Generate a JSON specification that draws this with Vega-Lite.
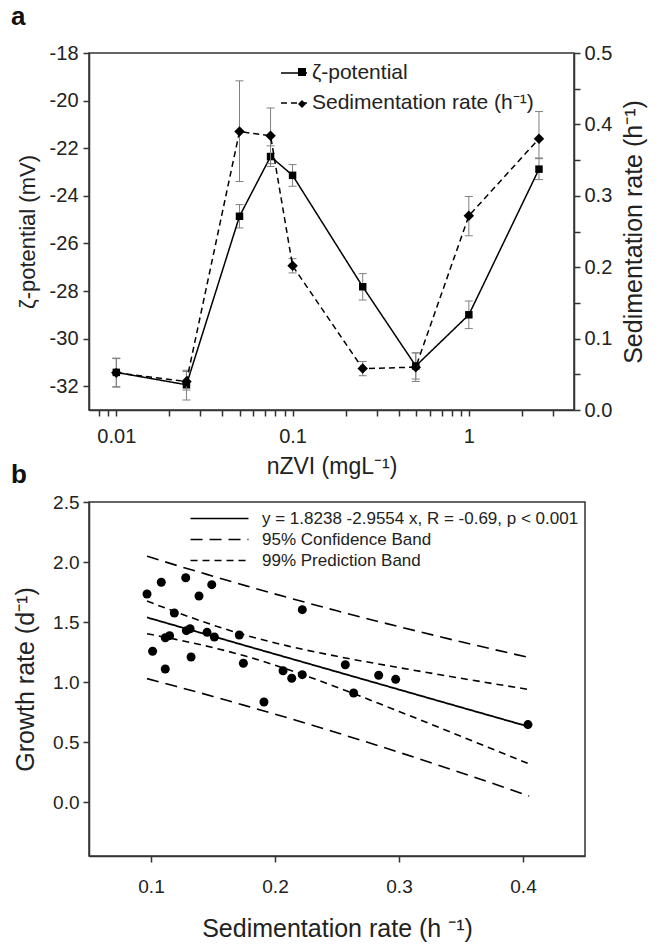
{
  "$schema": "https://vega.github.io/schema/vega-lite/v6.json",
  "background": "white",
  "padding": {"left": 10, "top": 3, "right": 5, "bottom": 5},
  "datasets": {
    "zeta": [
      {"x": 0.01, "z": -31.42, "zlo": -32.02, "zhi": -30.82, "s": 0.052, "slo": 0.032, "shi": 0.072},
      {"x": 0.025, "z": -31.94, "zlo": -32.58, "zhi": -31.33, "s": 0.040, "slo": 0.028, "shi": 0.054},
      {"x": 0.05, "z": -24.86, "zlo": -25.35, "zhi": -24.37, "s": 0.390, "slo": 0.320, "shi": 0.461},
      {"x": 0.075, "z": -22.35, "zlo": -22.77, "zhi": -21.90, "s": 0.384, "slo": 0.345, "shi": 0.423},
      {"x": 0.1, "z": -23.14, "zlo": -23.60, "zhi": -22.69, "s": 0.202, "slo": 0.192, "shi": 0.212},
      {"x": 0.25, "z": -27.82, "zlo": -28.38, "zhi": -27.27, "s": 0.058, "slo": 0.048, "shi": 0.068},
      {"x": 0.5, "z": -31.15, "zlo": -31.70, "zhi": -30.60, "s": 0.060, "slo": 0.040, "shi": 0.080},
      {"x": 1, "z": -29.00, "zlo": -29.58, "zhi": -28.42, "s": 0.272, "slo": 0.244, "shi": 0.299},
      {"x": 2.5, "z": -22.88, "zlo": -23.32, "zhi": -22.41, "s": 0.380, "slo": 0.352, "shi": 0.418}
    ],
    "pts": [
      {"x": 0.0968, "y": 1.733}, {"x": 0.1083, "y": 1.831}, {"x": 0.128, "y": 1.869},
      {"x": 0.149, "y": 1.811}, {"x": 0.1387, "y": 1.717}, {"x": 0.1188, "y": 1.575},
      {"x": 0.1013, "y": 1.256}, {"x": 0.1115, "y": 1.369}, {"x": 0.115, "y": 1.386},
      {"x": 0.1285, "y": 1.428}, {"x": 0.1315, "y": 1.444}, {"x": 0.1452, "y": 1.414},
      {"x": 0.1511, "y": 1.375}, {"x": 0.1323, "y": 1.208}, {"x": 0.1115, "y": 1.108},
      {"x": 0.1712, "y": 1.392}, {"x": 0.1745, "y": 1.156}, {"x": 0.222, "y": 1.603},
      {"x": 0.2065, "y": 1.094}, {"x": 0.2135, "y": 1.031}, {"x": 0.222, "y": 1.061},
      {"x": 0.1911, "y": 0.833}, {"x": 0.2567, "y": 1.144}, {"x": 0.2634, "y": 0.908},
      {"x": 0.2836, "y": 1.056}, {"x": 0.2973, "y": 1.022}, {"x": 0.404, "y": 0.645}
    ],
    "bands": [
      {"x": 0.0968, "fit": 1.538, "cl": 1.402, "cu": 1.674, "pl": 1.028, "pu": 2.048},
      {"x": 0.12, "fit": 1.469, "cl": 1.355, "cu": 1.584, "pl": 0.964, "pu": 1.974},
      {"x": 0.15, "fit": 1.381, "cl": 1.287, "cu": 1.474, "pl": 0.880, "pu": 1.882},
      {"x": 0.1768, "fit": 1.301, "cl": 1.214, "cu": 1.389, "pl": 0.801, "pu": 1.801},
      {"x": 0.21, "fit": 1.203, "cl": 1.106, "cu": 1.301, "pl": 0.702, "pu": 1.705},
      {"x": 0.25, "fit": 1.085, "cl": 0.956, "cu": 1.214, "pl": 0.577, "pu": 1.593},
      {"x": 0.3, "fit": 0.937, "cl": 0.755, "cu": 1.120, "pl": 0.414, "pu": 1.461},
      {"x": 0.35, "fit": 0.789, "cl": 0.547, "cu": 1.031, "pl": 0.244, "pu": 1.335},
      {"x": 0.405, "fit": 0.627, "cl": 0.317, "cu": 0.937, "pl": 0.050, "pu": 1.204}
    ]
  },
  "config": {
    "font": "Liberation Sans",
    "view": {"stroke": "#333333", "strokeWidth": 1.5},
    "axis": {"grid": false, "domainColor": "#333333", "domainWidth": 1.5, "tickColor": "#333333", "tickWidth": 1.5, "tickSize": 6, "labelColor": "#222222", "titleColor": "#222222", "titleFontWeight": "normal", "labelFont": "Liberation Sans", "titleFont": "Liberation Sans", "labelOverlap": false, "labelFlush": false},
    "legend": {"labelFont": "Liberation Sans", "labelColor": "#222222", "labelLimit": 500},
    "title": {"font": "Liberation Sans", "fontWeight": "bold", "color": "#111111"}
  },
  "resolve": {"scale": {"strokeDash": "independent", "shape": "independent"}, "legend": {"strokeDash": "independent", "shape": "independent"}},
  "bounds": "flush",
  "spacing": 92,
  "vconcat": [
    {
      "width": 485,
      "height": 357,
      "data": {"name": "zeta"},
      "title": {"text": "a", "anchor": "start", "frame": "group", "dx": -78, "offset": -8, "fontSize": 26, "baseline": "alphabetic"},
      "encoding": {
        "x": {"field": "x", "type": "quantitative", "title": "nZVI (mgL⁻¹)",
          "scale": {"type": "log", "domain": [0.007, 3.95], "nice": false},
          "axis": {"values": [0.008, 0.009, 0.01, 0.02, 0.03, 0.04, 0.05, 0.06, 0.07, 0.08, 0.09, 0.1, 0.2, 0.3, 0.4, 0.5, 0.6, 0.7, 0.8, 0.9, 1, 2, 3],
            "labelExpr": "datum.value === 0.01 ? '0.01' : datum.value === 0.1 ? '0.1' : datum.value === 1 ? '1' : ''",
            "labelFontSize": 20, "titleFontSize": 23, "labelPadding": 10, "titlePadding": 9}}
      },
      "layer": [
        {
          "layer": [
            {"mark": {"type": "rule", "color": "#808080", "strokeWidth": 1},
             "encoding": {"y": {"field": "zlo", "type": "quantitative", "title": "ζ-potential (mV)", "scale": {"domain": [-33, -18], "nice": false, "zero": false}, "axis": {"orient": "left", "values": [-32, -30, -28, -26, -24, -22, -20, -18], "labelExpr": "'-' + abs(datum.value)", "labelFontSize": 20, "titleFontSize": 22, "labelPadding": 5, "titlePadding": 10}}, "y2": {"field": "zhi"}}},
            {"mark": {"type": "point", "shape": "M-1,0H1", "size": 64, "filled": false, "color": "#808080", "strokeWidth": 1, "opacity": 1},
             "encoding": {"y": {"field": "zlo", "type": "quantitative", "title": "ζ-potential (mV)", "scale": {"domain": [-33, -18], "nice": false, "zero": false}, "axis": {"orient": "left", "values": [-32, -30, -28, -26, -24, -22, -20, -18], "labelExpr": "'-' + abs(datum.value)", "labelFontSize": 20, "titleFontSize": 22, "labelPadding": 5, "titlePadding": 10}}}},
            {"mark": {"type": "point", "shape": "M-1,0H1", "size": 64, "filled": false, "color": "#808080", "strokeWidth": 1, "opacity": 1},
             "encoding": {"y": {"field": "zhi", "type": "quantitative", "title": "ζ-potential (mV)", "scale": {"domain": [-33, -18], "nice": false, "zero": false}, "axis": {"orient": "left", "values": [-32, -30, -28, -26, -24, -22, -20, -18], "labelExpr": "'-' + abs(datum.value)", "labelFontSize": 20, "titleFontSize": 22, "labelPadding": 5, "titlePadding": 10}}}},
            {"mark": {"type": "line", "color": "black", "strokeWidth": 1.5},
             "encoding": {"y": {"field": "z", "type": "quantitative", "title": "ζ-potential (mV)", "scale": {"domain": [-33, -18], "nice": false, "zero": false}, "axis": {"orient": "left", "values": [-32, -30, -28, -26, -24, -22, -20, -18], "labelExpr": "'-' + abs(datum.value)", "labelFontSize": 20, "titleFontSize": 22, "labelPadding": 5, "titlePadding": 10}},
               "strokeDash": {"datum": "ζ-potential", "type": "nominal",
                 "scale": {"domain": ["ζ-potential", "Sedimentation rate (h⁻¹)"], "range": [[1, 0], [6, 4]]},
                 "legend": {"title": null, "orient": "none", "legendX": 191, "legendY": 6, "labelFontSize": 21, "labelOffset": 4, "rowPadding": 6, "symbolSize": 676, "symbolStrokeWidth": 1.5, "symbolStrokeColor": "black"}}}},
            {"mark": {"type": "point", "filled": true, "color": "black", "size": 56, "opacity": 1},
             "encoding": {"y": {"field": "z", "type": "quantitative", "title": "ζ-potential (mV)", "scale": {"domain": [-33, -18], "nice": false, "zero": false}, "axis": {"orient": "left", "values": [-32, -30, -28, -26, -24, -22, -20, -18], "labelExpr": "'-' + abs(datum.value)", "labelFontSize": 20, "titleFontSize": 22, "labelPadding": 5, "titlePadding": 10}},
               "shape": {"datum": "zeta", "type": "nominal",
                 "scale": {"domain": ["zeta", "sed"], "range": ["square", "diamond"]},
                 "legend": {"title": null, "orient": "none", "legendX": 200, "legendY": 6, "labelFontSize": 26, "labelExpr": "''", "rowPadding": 6, "symbolSize": 64, "symbolFillColor": "black", "symbolStrokeColor": "black", "symbolOpacity": 1, "symbolStrokeWidth": 0}}}}
          ]
        },
        {
          "layer": [
            {"mark": {"type": "rule", "color": "#808080", "strokeWidth": 1},
             "encoding": {"y": {"field": "slo", "type": "quantitative", "title": "Sedimentation rate (h⁻¹)", "scale": {"domain": [0, 0.5], "nice": false, "zero": false}, "axis": {"orient": "right", "values": [0, 0.05, 0.1, 0.15, 0.2, 0.25, 0.3, 0.35, 0.4, 0.45, 0.5], "labelExpr": "indexof([0, 0.1, 0.2, 0.3, 0.4, 0.5], datum.value) >= 0 ? format(datum.value, '.1f') : ''", "labelFontSize": 20, "titleFontSize": 25, "labelPadding": 4, "titlePadding": 10, "titleAngle": 270, "titleBaseline": "top"}}, "y2": {"field": "shi"}}},
            {"mark": {"type": "point", "shape": "M-1,0H1", "size": 64, "filled": false, "color": "#808080", "strokeWidth": 1, "opacity": 1},
             "encoding": {"y": {"field": "slo", "type": "quantitative", "title": "Sedimentation rate (h⁻¹)", "scale": {"domain": [0, 0.5], "nice": false, "zero": false}, "axis": {"orient": "right", "values": [0, 0.05, 0.1, 0.15, 0.2, 0.25, 0.3, 0.35, 0.4, 0.45, 0.5], "labelExpr": "indexof([0, 0.1, 0.2, 0.3, 0.4, 0.5], datum.value) >= 0 ? format(datum.value, '.1f') : ''", "labelFontSize": 20, "titleFontSize": 25, "labelPadding": 4, "titlePadding": 10, "titleAngle": 270, "titleBaseline": "top"}}}},
            {"mark": {"type": "point", "shape": "M-1,0H1", "size": 64, "filled": false, "color": "#808080", "strokeWidth": 1, "opacity": 1},
             "encoding": {"y": {"field": "shi", "type": "quantitative", "title": "Sedimentation rate (h⁻¹)", "scale": {"domain": [0, 0.5], "nice": false, "zero": false}, "axis": {"orient": "right", "values": [0, 0.05, 0.1, 0.15, 0.2, 0.25, 0.3, 0.35, 0.4, 0.45, 0.5], "labelExpr": "indexof([0, 0.1, 0.2, 0.3, 0.4, 0.5], datum.value) >= 0 ? format(datum.value, '.1f') : ''", "labelFontSize": 20, "titleFontSize": 25, "labelPadding": 4, "titlePadding": 10, "titleAngle": 270, "titleBaseline": "top"}}}},
            {"mark": {"type": "line", "color": "black", "strokeWidth": 1.5},
             "encoding": {"y": {"field": "s", "type": "quantitative", "title": "Sedimentation rate (h⁻¹)", "scale": {"domain": [0, 0.5], "nice": false, "zero": false}, "axis": {"orient": "right", "values": [0, 0.05, 0.1, 0.15, 0.2, 0.25, 0.3, 0.35, 0.4, 0.45, 0.5], "labelExpr": "indexof([0, 0.1, 0.2, 0.3, 0.4, 0.5], datum.value) >= 0 ? format(datum.value, '.1f') : ''", "labelFontSize": 20, "titleFontSize": 25, "labelPadding": 4, "titlePadding": 10, "titleAngle": 270, "titleBaseline": "top"}},
               "strokeDash": {"datum": "Sedimentation rate (h⁻¹)", "type": "nominal",
                 "scale": {"domain": ["ζ-potential", "Sedimentation rate (h⁻¹)"], "range": [[1, 0], [6, 4]]},
                 "legend": {"title": null, "orient": "none", "legendX": 191, "legendY": 6, "labelFontSize": 21, "labelOffset": 4, "rowPadding": 6, "symbolSize": 676, "symbolStrokeWidth": 1.5, "symbolStrokeColor": "black"}}}},
            {"mark": {"type": "point", "filled": true, "color": "black", "size": 110, "opacity": 1},
             "encoding": {"y": {"field": "s", "type": "quantitative", "title": "Sedimentation rate (h⁻¹)", "scale": {"domain": [0, 0.5], "nice": false, "zero": false}, "axis": {"orient": "right", "values": [0, 0.05, 0.1, 0.15, 0.2, 0.25, 0.3, 0.35, 0.4, 0.45, 0.5], "labelExpr": "indexof([0, 0.1, 0.2, 0.3, 0.4, 0.5], datum.value) >= 0 ? format(datum.value, '.1f') : ''", "labelFontSize": 20, "titleFontSize": 25, "labelPadding": 4, "titlePadding": 10, "titleAngle": 270, "titleBaseline": "top"}},
               "shape": {"datum": "sed", "type": "nominal",
                 "scale": {"domain": ["zeta", "sed"], "range": ["square", "diamond"]},
                 "legend": {"title": null, "orient": "none", "legendX": 200, "legendY": 6, "labelFontSize": 26, "labelExpr": "''", "rowPadding": 6, "symbolSize": 64, "symbolFillColor": "black", "symbolStrokeColor": "black", "symbolOpacity": 1, "symbolStrokeWidth": 0}}}}
          ]
        }
      ],
      "resolve": {"scale": {"y": "independent"}}
    },
    {
      "width": 496,
      "height": 354,
      "title": {"text": "b", "anchor": "start", "frame": "group", "dx": -78, "offset": -16, "fontSize": 26, "baseline": "alphabetic"},
      "encoding": {
        "x": {"field": "x", "type": "quantitative", "title": "Sedimentation rate (h ⁻¹)",
          "scale": {"domain": [0.05, 0.45], "nice": false, "zero": false},
          "axis": {"values": [0.1, 0.2, 0.3, 0.4], "format": ".1f", "labelFontSize": 19, "titleFontSize": 25, "labelPadding": 15, "titlePadding": 20}}
      },
      "layer": [
        {"data": {"name": "bands"}, "mark": {"type": "line", "color": "black", "strokeWidth": 1.6, "interpolate": "monotone"},
         "encoding": {"y": {"field": "pu", "type": "quantitative", "title": "Growth rate (d⁻¹)", "scale": {"domain": [-0.45, 2.5], "nice": false, "zero": false}, "axis": {"values": [0, 0.5, 1, 1.5, 2, 2.5], "format": ".1f", "labelFontSize": 19, "titleFontSize": 25, "labelPadding": 4, "titlePadding": 14}},
           "strokeDash": {"datum": "95% Confidence Band", "type": "nominal",
             "scale": {"domain": ["y = 1.8238 -2.9554 x, R = -0.69, p < 0.001", "95% Confidence Band", "99% Prediction Band"], "range": [[1, 0], [12, 7], [7, 5]]},
             "legend": {"title": null, "orient": "none", "legendX": 122, "legendY": 8, "labelFontSize": 17, "labelOffset": 34, "rowPadding": 3, "symbolSize": 210, "symbolType": "M-4,0H4", "symbolStrokeWidth": 1.5, "symbolStrokeColor": "black"}}}},
        {"data": {"name": "bands"}, "mark": {"type": "line", "color": "black", "strokeWidth": 1.6, "interpolate": "monotone"},
         "encoding": {"y": {"field": "pl", "type": "quantitative", "title": "Growth rate (d⁻¹)", "scale": {"domain": [-0.45, 2.5], "nice": false, "zero": false}, "axis": {"values": [0, 0.5, 1, 1.5, 2, 2.5], "format": ".1f", "labelFontSize": 19, "titleFontSize": 25, "labelPadding": 4, "titlePadding": 14}},
           "strokeDash": {"datum": "95% Confidence Band", "type": "nominal",
             "scale": {"domain": ["y = 1.8238 -2.9554 x, R = -0.69, p < 0.001", "95% Confidence Band", "99% Prediction Band"], "range": [[1, 0], [12, 7], [7, 5]]},
             "legend": {"title": null, "orient": "none", "legendX": 122, "legendY": 8, "labelFontSize": 17, "labelOffset": 34, "rowPadding": 3, "symbolSize": 210, "symbolType": "M-4,0H4", "symbolStrokeWidth": 1.5, "symbolStrokeColor": "black"}}}},
        {"data": {"name": "bands"}, "mark": {"type": "line", "color": "black", "strokeWidth": 1.6, "interpolate": "monotone"},
         "encoding": {"y": {"field": "cu", "type": "quantitative", "title": "Growth rate (d⁻¹)", "scale": {"domain": [-0.45, 2.5], "nice": false, "zero": false}, "axis": {"values": [0, 0.5, 1, 1.5, 2, 2.5], "format": ".1f", "labelFontSize": 19, "titleFontSize": 25, "labelPadding": 4, "titlePadding": 14}},
           "strokeDash": {"datum": "99% Prediction Band", "type": "nominal",
             "scale": {"domain": ["y = 1.8238 -2.9554 x, R = -0.69, p < 0.001", "95% Confidence Band", "99% Prediction Band"], "range": [[1, 0], [12, 7], [7, 5]]},
             "legend": {"title": null, "orient": "none", "legendX": 122, "legendY": 8, "labelFontSize": 17, "labelOffset": 34, "rowPadding": 3, "symbolSize": 210, "symbolType": "M-4,0H4", "symbolStrokeWidth": 1.5, "symbolStrokeColor": "black"}}}},
        {"data": {"name": "bands"}, "mark": {"type": "line", "color": "black", "strokeWidth": 1.6, "interpolate": "monotone"},
         "encoding": {"y": {"field": "cl", "type": "quantitative", "title": "Growth rate (d⁻¹)", "scale": {"domain": [-0.45, 2.5], "nice": false, "zero": false}, "axis": {"values": [0, 0.5, 1, 1.5, 2, 2.5], "format": ".1f", "labelFontSize": 19, "titleFontSize": 25, "labelPadding": 4, "titlePadding": 14}},
           "strokeDash": {"datum": "99% Prediction Band", "type": "nominal",
             "scale": {"domain": ["y = 1.8238 -2.9554 x, R = -0.69, p < 0.001", "95% Confidence Band", "99% Prediction Band"], "range": [[1, 0], [12, 7], [7, 5]]},
             "legend": {"title": null, "orient": "none", "legendX": 122, "legendY": 8, "labelFontSize": 17, "labelOffset": 34, "rowPadding": 3, "symbolSize": 210, "symbolType": "M-4,0H4", "symbolStrokeWidth": 1.5, "symbolStrokeColor": "black"}}}},
        {"data": {"name": "bands"}, "mark": {"type": "line", "color": "black", "strokeWidth": 1.8},
         "encoding": {"y": {"field": "fit", "type": "quantitative", "title": "Growth rate (d⁻¹)", "scale": {"domain": [-0.45, 2.5], "nice": false, "zero": false}, "axis": {"values": [0, 0.5, 1, 1.5, 2, 2.5], "format": ".1f", "labelFontSize": 19, "titleFontSize": 25, "labelPadding": 4, "titlePadding": 14}},
           "strokeDash": {"datum": "y = 1.8238 -2.9554 x, R = -0.69, p < 0.001", "type": "nominal",
             "scale": {"domain": ["y = 1.8238 -2.9554 x, R = -0.69, p < 0.001", "95% Confidence Band", "99% Prediction Band"], "range": [[1, 0], [12, 7], [7, 5]]},
             "legend": {"title": null, "orient": "none", "legendX": 122, "legendY": 8, "labelFontSize": 17, "labelOffset": 34, "rowPadding": 3, "symbolSize": 210, "symbolType": "M-4,0H4", "symbolStrokeWidth": 1.5, "symbolStrokeColor": "black"}}}},
        {"data": {"name": "pts"}, "mark": {"type": "circle", "color": "black", "size": 81, "opacity": 1},
         "encoding": {"y": {"field": "y", "type": "quantitative", "title": "Growth rate (d⁻¹)", "scale": {"domain": [-0.45, 2.5], "nice": false, "zero": false}, "axis": {"values": [0, 0.5, 1, 1.5, 2, 2.5], "format": ".1f", "labelFontSize": 19, "titleFontSize": 25, "labelPadding": 4, "titlePadding": 14}}}}
      ]
    }
  ]
}
